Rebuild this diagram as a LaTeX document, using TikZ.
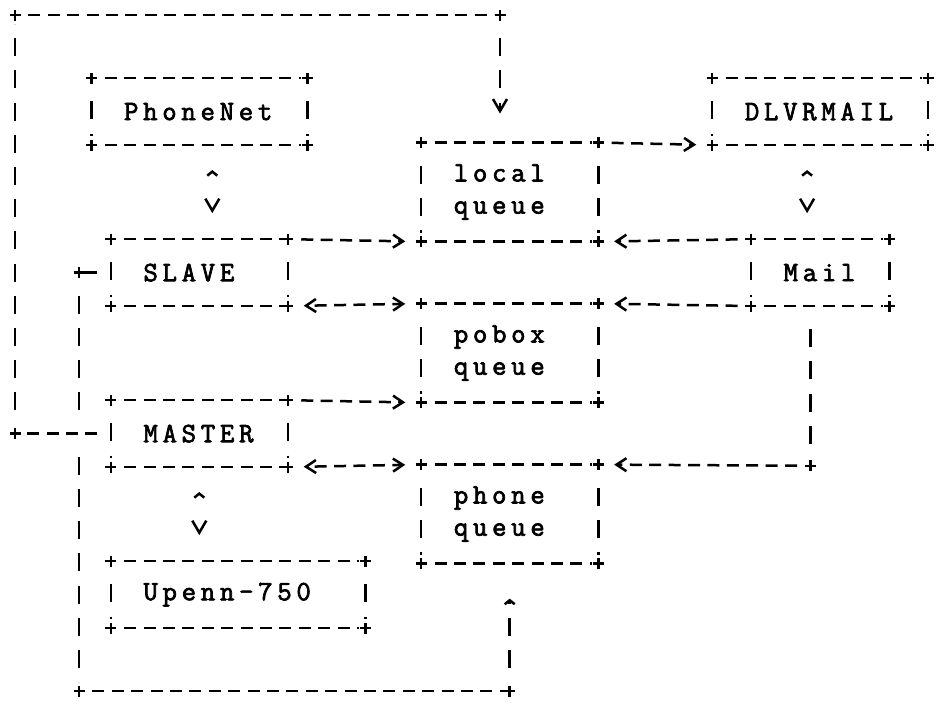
\documentclass[tikz,border=0pt]{standalone}
\usepackage{fontspec}
\newfontfamily\typefont{Latin Modern Mono}[LetterSpace=16.8, FakeBold=2.5]
\usetikzlibrary{arrows.meta}

\begin{document}
\begin{tikzpicture}[x=19.4pt, y=-32.2pt, shift={(15pt,-15pt)}, line width=2.5pt,
    hline/.style={draw, dash pattern=on 12pt off 7.4pt, dash phase=12pt, shorten <=6pt, shorten >=6pt},
    vline/.style={draw, dash pattern=on 18pt off 14.2pt, dash phase=18pt, shorten <=9pt, shorten >=9pt},
    plus/.style={draw, solid, to path={(\tikztostart) +(-5.5pt,0) -- +(5.5pt,0) +(0,-5.5pt) -- +(0,5.5pt)}},
    box/.style={font=\typefont\fontsize{28pt}{32.2pt}\selectfont, align=left, inner xsep=31.45pt, inner ysep=0pt, minimum height=64.4pt,
      append after command={
        (\tikzlastnode.north west) edge[hline] (\tikzlastnode.north east)
        (\tikzlastnode.south west) edge[hline] (\tikzlastnode.south east)
        (\tikzlastnode.north west) edge[vline] (\tikzlastnode.south west)
        (\tikzlastnode.north east) edge[vline] (\tikzlastnode.south east)
        (\tikzlastnode.north west) edge[plus] (\tikzlastnode.north west)
        (\tikzlastnode.north east) edge[plus] (\tikzlastnode.north east)
        (\tikzlastnode.south west) edge[plus] (\tikzlastnode.south west)
        (\tikzlastnode.south east) edge[plus] (\tikzlastnode.south east)}},
    gt/.style={-{Straight Barb[length=10pt,width=13pt,sep=1.5pt]}, shorten >=14.4pt},
    twoway/.style={{Straight Barb[length=10pt,width=13pt,sep=1.5pt]}-{Straight Barb[length=10pt,width=13pt,sep=1.5pt]}, shorten <=14.4pt, shorten >=14.4pt},
    vtip/.style={-{Straight Barb[length=12pt,width=14pt,sep=2pt]}, shorten >=27pt},
    uptip/.style={-{Straight Barb[length=4pt,width=10pt,sep=10pt]}, shorten >=25pt},
    updown/.style={draw, dash pattern=on 0pt off 300pt, {Straight Barb[length=4pt,width=10pt]}-{Straight Barb[length=12pt,width=14pt]}, shorten <=25pt, shorten >=26pt}]
    \useasboundingbox (-15pt,15pt) rectangle (923pt,-689pt);

    \node[box, text width=150.5pt] (phonenet) at (9.5,3) {PhoneNet};
    \node[box, text width=150.5pt] (dlvrmail) at (41.5,3) {DLVRMAIL};
    \node[box, text width=111.7pt, minimum height=96.6pt] (localq) at (25.5,5.5) {local\\queue};
    \node[box, text width=111.7pt] (slave) at (9.5,8) {SLAVE};
    \node[box, text width=72.9pt] (mail) at (41.5,8) {Mail};
    \node[box, text width=111.7pt, minimum height=96.6pt] (poboxq) at (25.5,10.5) {pobox\\queue};
    \node[box, text width=111.7pt] (master) at (9.5,13) {MASTER};
    \node[box, text width=111.7pt, minimum height=96.6pt] (phoneq) at (25.5,15.5) {phone\\queue};
    \node[box, text width=189.3pt] (upenn) at (11.5,18) {Upenn-750};

    \draw[updown] ([xshift=13pt]phonenet.south) -- ([xshift=13pt]slave.north);
    \draw[updown] ([xshift=-13pt]dlvrmail.south) -- ([xshift=-13pt]mail.north);
    \draw[updown] (master.south) -- (master.south |- upenn.north);

    \draw[hline, gt] (localq.north east) -- (dlvrmail.south west);
    \draw[hline, gt] (slave.north east) -- (localq.south west);
    \draw[hline, gt] (mail.north west) -- (localq.south east);
    \draw[hline, twoway] (slave.south east) -- (poboxq.north west);
    \draw[hline, gt] (mail.south west) -- (poboxq.north east);
    \draw[hline, gt] (master.north east) -- (poboxq.south west);
    \draw[hline, twoway] (master.south east) -- (phoneq.north west);

    \coordinate (mailturn) at (41,14);
    \draw[vline] (mail.south -| mailturn) -- (mailturn);
    \draw[hline, gt] (mailturn) -- (phoneq.north east);

    \coordinate (ml) at (0,13);
    \coordinate (tl) at (0,0);
    \coordinate (tr) at (25,0);
    \draw[hline] (master.west) -- (ml);
    \draw[vline] (ml) -- (tl);
    \draw[hline] (tl) -- (tr);
    \draw[vline, vtip] (tr) -- (tr |- localq.north);

    \coordinate (sl) at (3.3,8);
    \coordinate (sx) at (3.3,13);
    \coordinate (bl) at (3.3,21);
    \coordinate (br) at (25.5,21);
    \draw[hline] (slave.west) -- (sl);
    \draw[vline] (sl) -- (sx);
    \draw[vline] (sx) -- (bl);
    \draw[hline] (bl) -- (br);
    \draw[vline, uptip] (br) -- (phoneq.south);

    \foreach \c in {mailturn, ml, tl, tr, sl, bl, br}
      \draw[plus] (\c) to (\c);
\end{tikzpicture}
\end{document}
